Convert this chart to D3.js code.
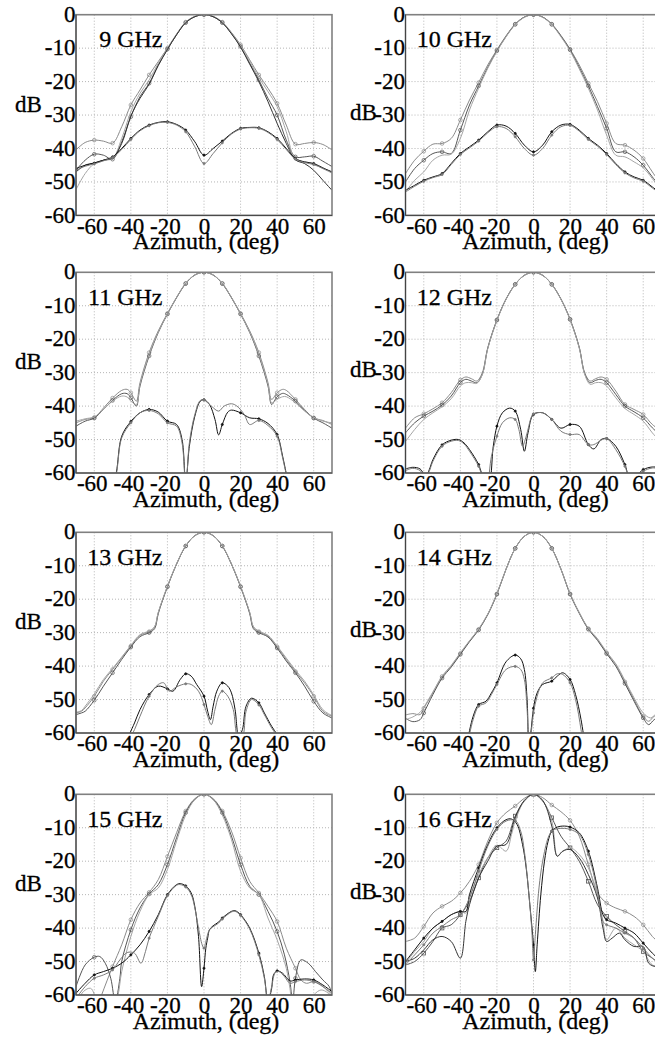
<!DOCTYPE html>
<html>
<head>
<meta charset="utf-8">
<script src="https://cdn.jsdelivr.net/npm/d3@7"></script>
<style>
  body { margin: 0; background: #fff; }
</style>
</head>
<body>
<svg width="655" height="1045"></svg>
<script>
// Tick labels and panel titles
const xTicks = [-60, -40, -20, 0, 20, 40, 60];
const yTicks = [0, -10, -20, -30, -40, -50, -60];
const titles = ['9 GHz', '10 GHz', '11 GHz', '12 GHz', '13 GHz', '14 GHz', '15 GHz', '16 GHz'];

// [azimuth deg, dB]. co* = main beam curves, cx* = cross-pol curves
const co9 = [
  [[-70,-40.4],[-65,-38.2],[-60,-37.5],[-55,-37.8],[-50,-38.4],[-45,-33.5],[-40,-27],[-35,-22.5],[-30,-18],[-25,-14],[-20,-10],[-15,-5.8],[-10,-2.2],[-5,-0.5],[0,0],[5,-0.5],[10,-2.2],[15,-5.3],[20,-9],[25,-13.5],[30,-18],[35,-22],[40,-26.5],[45,-33],[50,-38.7],[55,-38.5],[60,-38.2],[65,-38.8],[70,-40.4]],
  [[-70,-46.5],[-65,-43.5],[-60,-41.7],[-55,-42],[-50,-43.2],[-45,-38],[-40,-30.5],[-35,-24.5],[-30,-20.5],[-25,-15],[-20,-10.3],[-15,-6],[-10,-2.4],[-5,-0.6],[0,0],[5,-0.6],[10,-2.4],[15,-5.6],[20,-9.5],[25,-14.5],[30,-19.5],[35,-25],[40,-30],[45,-37.5],[50,-42.5],[55,-42.5],[60,-42.3],[65,-43.8],[70,-45.4]],
  [[-70,-52.3],[-65,-47.5],[-60,-44.5],[-55,-43.5],[-50,-43],[-45,-37],[-40,-29],[-35,-23.5],[-30,-19.5],[-25,-14.5],[-20,-10.2],[-15,-5.9],[-10,-2.3],[-5,-0.6],[0,0],[5,-0.6],[10,-2.3],[15,-5.4],[20,-9.3],[25,-14],[30,-18.8],[35,-23],[40,-27.5],[45,-35],[50,-43.3],[55,-44],[60,-44.5],[65,-45.8],[70,-47]],
  [[-70,-47],[-65,-45],[-60,-44.3],[-55,-43.5],[-50,-42.8],[-45,-38.5],[-40,-30.3],[-35,-25],[-30,-20.8],[-25,-15.2],[-20,-10.4],[-15,-6],[-10,-2.4],[-5,-0.6],[0,0],[5,-0.6],[10,-2.4],[15,-5.7],[20,-9.7],[25,-14.8],[30,-20],[35,-26],[40,-32.5],[45,-38.5],[50,-43.4],[55,-44.5],[60,-46.5],[65,-49.5],[70,-52.5]]
];
const cx9 = [
  [[-70,-46],[-65,-45],[-60,-44.4],[-55,-43.5],[-50,-42.5],[-45,-40],[-40,-37],[-35,-34.5],[-30,-33],[-25,-32.2],[-20,-32],[-15,-32.8],[-10,-34.5],[-5,-38],[0,-42],[5,-40],[10,-37.8],[15,-35.5],[20,-34],[25,-33.7],[30,-33.8],[35,-35],[40,-37],[45,-40],[50,-43],[55,-44],[60,-44.5],[65,-45.8],[70,-47]],
  [[-70,-46.5],[-65,-45.3],[-60,-44.6],[-55,-43.7],[-50,-42.7],[-45,-40.3],[-40,-37.3],[-35,-34.7],[-30,-33.2],[-25,-32.3],[-20,-32.2],[-15,-33],[-10,-35],[-5,-39.5],[0,-44.5],[5,-41.5],[10,-38.3],[15,-35.7],[20,-34.2],[25,-33.8],[30,-34],[35,-35.2],[40,-37.3],[45,-40.3],[50,-43.2],[55,-44.2],[60,-44.8],[65,-46],[70,-47.3]]
];

const co10 = [
  [[-70,-47.5],[-65,-43.5],[-60,-40.8],[-55,-38.7],[-50,-38.5],[-45,-37],[-40,-31.5],[-35,-25.5],[-30,-20.3],[-25,-15],[-20,-10.5],[-15,-6.3],[-10,-2.8],[-5,-0.7],[0,0],[5,-0.7],[10,-2.8],[15,-6.2],[20,-10.3],[25,-15],[30,-20.5],[35,-26],[40,-32.5],[45,-38.5],[50,-39],[55,-40.5],[60,-43],[65,-47],[70,-51]],
  [[-70,-50],[-65,-46],[-60,-43.5],[-55,-41.5],[-50,-41],[-45,-41.5],[-40,-34.5],[-35,-27],[-30,-21.3],[-25,-15.7],[-20,-10.8],[-15,-6.5],[-10,-2.9],[-5,-0.7],[0,0],[5,-0.7],[10,-2.9],[15,-6.4],[20,-10.5],[25,-15.7],[30,-21.3],[35,-27.5],[40,-34],[45,-41],[50,-41],[55,-42.5],[60,-45],[65,-48.5],[70,-52]],
  [[-70,-53],[-65,-49.5],[-60,-47],[-55,-43.5],[-50,-42],[-45,-41.7],[-40,-37],[-35,-28.5],[-30,-22],[-25,-16],[-20,-11],[-15,-6.6],[-10,-3],[-5,-0.8],[0,0],[5,-0.8],[10,-3],[15,-6.6],[20,-10.8],[25,-16.2],[30,-22],[35,-28.5],[40,-36],[45,-42],[50,-42.5],[55,-44],[60,-45.8],[65,-49],[70,-53]]
];
const cx10 = [
  [[-70,-52.5],[-65,-51],[-60,-49.5],[-55,-48.5],[-50,-47.5],[-45,-44.5],[-40,-41.5],[-35,-39.5],[-30,-37.5],[-25,-35],[-20,-33],[-15,-33.3],[-10,-35.5],[-5,-39],[0,-41],[5,-39],[10,-35],[15,-33],[20,-32.8],[25,-34.5],[30,-37],[35,-39],[40,-41.5],[45,-44.5],[50,-47],[55,-48.5],[60,-49.5],[65,-51.5],[70,-53.5]],
  [[-70,-53],[-65,-51.3],[-60,-49.8],[-55,-48.7],[-50,-47.8],[-45,-44.8],[-40,-41.8],[-35,-39.8],[-30,-37.8],[-25,-35.3],[-20,-33.5],[-15,-34],[-10,-36.5],[-5,-40],[0,-42],[5,-40],[10,-36],[15,-33.5],[20,-33.1],[25,-34.8],[30,-37.3],[35,-39.3],[40,-41.8],[45,-44.8],[50,-47.3],[55,-48.8],[60,-49.8],[65,-51.8],[70,-53.8]]
];

const co11 = [
  [[-70,-45],[-65,-44],[-60,-43.4],[-55,-40.6],[-50,-37.6],[-45,-35.3],[-42,-35],[-40,-36],[-37,-38.5],[-35,-33],[-30,-24],[-25,-17.5],[-20,-12.3],[-15,-7.5],[-10,-3.3],[-5,-0.8],[0,0],[5,-0.8],[10,-3.3],[15,-7.5],[20,-12.3],[25,-17.5],[30,-24],[35,-33],[37,-38],[40,-36],[43,-35],[45,-35.3],[50,-38],[55,-41],[60,-43.5],[65,-44.3],[70,-45.5]],
  [[-70,-46],[-65,-44.5],[-60,-43.6],[-55,-41],[-50,-38.3],[-45,-36.3],[-42,-36.3],[-40,-37.5],[-37,-40],[-35,-34],[-30,-25],[-25,-18],[-20,-12.5],[-15,-7.6],[-10,-3.4],[-5,-0.8],[0,0],[5,-0.8],[10,-3.4],[15,-7.6],[20,-12.5],[25,-18],[30,-25],[35,-34],[37,-39.5],[40,-37.2],[43,-36.2],[45,-36.5],[50,-38.5],[55,-41.3],[60,-43.6],[65,-45],[70,-46.6]],
  [[-70,-44.5],[-65,-43.8],[-60,-43.2],[-55,-41],[-50,-38.5],[-45,-37],[-42,-37.3],[-40,-38.5],[-37,-39.5],[-35,-33.5],[-30,-24.5],[-25,-17.8],[-20,-12.4],[-15,-7.5],[-10,-3.3],[-5,-0.8],[0,0],[5,-0.8],[10,-3.3],[15,-7.5],[20,-12.4],[25,-17.8],[30,-24.5],[35,-33.5],[37,-39],[40,-38],[43,-37.2],[45,-37.2],[50,-39],[55,-41.5],[60,-43.4],[65,-44.5],[70,-45]]
];
const cx11 = [
  [[-51,-66],[-48,-60],[-45,-49],[-40,-44.6],[-35,-42],[-30,-41],[-25,-41.8],[-20,-44.5],[-15,-45.5],[-12,-50],[-10,-63],[-8,-52],[-5,-43],[-2,-38.5],[0,-38.1],[3,-39.5],[6,-44],[8,-48.6],[10,-45.5],[13,-41.8],[15,-41.2],[20,-42],[25,-43.5],[30,-43.8],[35,-45.2],[40,-48.5],[43,-55],[46,-63]],
  [[-51,-66],[-48,-60.5],[-45,-49.5],[-40,-45],[-35,-42],[-30,-41.3],[-25,-42.3],[-20,-45],[-15,-46],[-12,-51],[-10,-64],[-8,-51],[-5,-42.5],[-2,-38.3],[0,-38.2],[4,-40],[8,-41.5],[11,-40],[15,-39.3],[18,-40],[22,-42.5],[25,-45.5],[30,-44.3],[35,-45.8],[40,-49],[43,-55.5],[46,-63]]
];

const co12 = [
  [[-70,-46.6],[-65,-43.5],[-60,-42.3],[-55,-40.8],[-50,-39],[-45,-36],[-40,-32.2],[-37,-31.3],[-34,-31.8],[-31,-32.5],[-28,-30],[-25,-22.5],[-20,-14.2],[-15,-8],[-10,-3.6],[-5,-0.9],[0,0],[5,-0.9],[10,-3.6],[15,-8],[20,-14],[25,-22.3],[28,-30],[31,-32.5],[34,-31.8],[37,-31.3],[40,-32],[45,-35.5],[50,-39.5],[55,-41],[60,-42.5],[65,-45.5],[70,-47.5]],
  [[-70,-48],[-65,-45],[-60,-43],[-55,-41.5],[-50,-39.7],[-45,-37],[-40,-33],[-37,-32],[-34,-32.5],[-31,-33],[-28,-30.5],[-25,-22.7],[-20,-14.3],[-15,-8],[-10,-3.6],[-5,-0.9],[0,0],[5,-0.9],[10,-3.6],[15,-8],[20,-14.1],[25,-22.5],[28,-30.3],[31,-33],[34,-32.3],[37,-32],[40,-33],[45,-36.5],[50,-40],[55,-41.7],[60,-43.5],[65,-46.5],[70,-49]],
  [[-70,-50.6],[-65,-47],[-60,-44],[-55,-42],[-50,-40.2],[-45,-37.8],[-40,-34],[-37,-33],[-34,-33],[-31,-33.2],[-28,-30.6],[-25,-22.8],[-20,-14.4],[-15,-8.1],[-10,-3.6],[-5,-0.9],[0,0],[5,-0.9],[10,-3.6],[15,-8.1],[20,-14.2],[25,-22.6],[28,-30.5],[31,-33.5],[34,-33],[37,-33],[40,-34],[45,-37.5],[50,-40.7],[55,-42.5],[60,-44.5],[65,-48],[70,-51]]
];
const cx12 = [
  [[-70,-58.8],[-66,-58.3],[-62,-58.8],[-59,-61],[-57,-59],[-55,-56],[-50,-51.6],[-45,-50.2],[-41,-50],[-38,-51],[-35,-53],[-30,-57.5],[-27,-62],[-24.5,-63],[-22,-52],[-20,-46],[-17,-42],[-13,-40.6],[-10,-41.5],[-7,-47],[-5,-53.5],[-3,-48],[0,-42.5],[5,-42],[10,-44],[15,-46.6],[20,-45.5],[25,-46],[30,-51.5],[33,-52.8],[37,-50],[40,-49.7],[45,-52],[50,-57.5],[53,-62],[56,-61],[60,-59],[65,-58.2],[70,-58.5]],
  [[-70,-59.3],[-66,-58.6],[-62,-59.3],[-59,-61.5],[-57,-59.5],[-55,-56.5],[-50,-52],[-45,-50.5],[-41,-50.3],[-38,-51.3],[-35,-53.5],[-30,-58],[-27,-62.5],[-25.5,-63],[-23,-55],[-20,-49],[-17,-45],[-13,-43.5],[-10,-44],[-8,-47],[-6,-52],[-4,-49],[-1,-43],[0,-42.3],[5,-42],[10,-44],[15,-47.5],[20,-48.5],[25,-48.5],[30,-51.5],[33,-51.5],[37,-50.2],[40,-49.7],[45,-53],[50,-58],[53,-62],[56,-61.5],[60,-59.5],[65,-58.5],[70,-58.8]]
];

const co13 = [
  [[-70,-54],[-67,-53.5],[-65,-52.5],[-60,-49],[-55,-44.5],[-50,-41],[-45,-37.5],[-40,-34],[-35,-30.8],[-30,-29.7],[-27,-28.3],[-25,-24],[-20,-16.2],[-15,-9.5],[-10,-4.1],[-5,-1],[0,0],[5,-1],[10,-4.1],[15,-9.5],[20,-16.2],[25,-24],[27,-28.3],[30,-29.7],[35,-31],[40,-34.2],[45,-38],[50,-41.6],[55,-45],[60,-49],[65,-53.5],[70,-55]],
  [[-70,-54.5],[-67,-54],[-65,-53.5],[-60,-50.2],[-55,-46],[-50,-42],[-45,-38],[-40,-34.3],[-35,-31.2],[-30,-30],[-27,-28.8],[-25,-24.3],[-20,-16.3],[-15,-9.5],[-10,-4.1],[-5,-1],[0,0],[5,-1],[10,-4.1],[15,-9.5],[20,-16.3],[25,-24.3],[27,-28.8],[30,-30],[35,-31.3],[40,-34.6],[45,-38.5],[50,-42],[55,-46],[60,-50.5],[65,-54],[70,-55.5]],
  [[-70,-53.8],[-67,-53.3],[-65,-52],[-60,-48.3],[-55,-44],[-50,-40.7],[-45,-37.3],[-40,-33.8],[-35,-30.6],[-30,-29.5],[-27,-28.2],[-25,-23.9],[-20,-16.1],[-15,-9.4],[-10,-4],[-5,-1],[0,0],[5,-1],[10,-4],[15,-9.4],[20,-16.1],[25,-23.9],[27,-28.2],[30,-29.5],[35,-30.8],[40,-34],[45,-37.6],[50,-41.2],[55,-44.5],[60,-48.6],[65,-53],[70,-54.8]]
];
const cx13 = [
  [[-43,-63],[-38,-57],[-35,-53],[-30,-48.5],[-25,-46],[-20,-46.8],[-17,-47.5],[-13,-44],[-10,-42.3],[-7,-43],[-4,-45.5],[0,-49],[2,-53.5],[3.5,-56],[5,-52],[7,-47.5],[10,-45],[13,-46],[15,-48],[17,-53],[19,-61],[21,-59],[23,-52],[26,-49.6],[30,-51],[33,-54],[37,-58],[40,-60.5],[42,-63]],
  [[-43,-64],[-38,-59],[-35,-55],[-30,-49],[-25,-45.5],[-22,-45],[-19,-47.5],[-15,-46.2],[-10,-45.3],[-7,-45.5],[-3,-47.5],[0,-51.5],[2,-55],[4,-57.5],[6,-53],[8,-49],[10,-47.5],[13,-49],[16,-53],[18.5,-61],[21,-61],[23,-53.5],[26,-50],[30,-51.6],[33,-54.5],[37,-58.5],[40,-61],[42,-64]]
];

const co14 = [
  [[-70,-54.6],[-66,-54.2],[-62,-54.5],[-60,-52.6],[-55,-48],[-50,-43.1],[-45,-40],[-40,-36.2],[-35,-32.5],[-30,-29],[-25,-24.5],[-20,-18.4],[-15,-11],[-10,-4.8],[-5,-1.2],[0,0],[5,-1.2],[10,-4.8],[15,-11],[20,-18.4],[25,-24],[30,-28.8],[35,-32],[40,-36],[45,-39.5],[50,-44.7],[55,-50],[60,-55],[63,-56.5],[66,-55],[70,-54.5]],
  [[-70,-55.6],[-66,-56.6],[-62,-56],[-60,-54],[-55,-48.5],[-50,-43.6],[-45,-40.3],[-40,-36.5],[-35,-32.7],[-30,-29.2],[-25,-24.6],[-20,-18.5],[-15,-11],[-10,-4.8],[-5,-1.2],[0,0],[5,-1.2],[10,-4.8],[15,-11],[20,-18.5],[25,-24.2],[30,-29],[35,-32.3],[40,-36.3],[45,-40],[50,-45.2],[55,-50.5],[60,-55.5],[63,-57.5],[66,-56],[70,-55]],
  [[-70,-56],[-66,-55.2],[-62,-53.8],[-60,-52.3],[-55,-47.7],[-50,-43],[-45,-39.8],[-40,-36],[-35,-32.4],[-30,-28.9],[-25,-24.4],[-20,-18.3],[-15,-11],[-10,-4.8],[-5,-1.2],[0,0],[5,-1.2],[10,-4.8],[15,-11],[20,-18.3],[25,-24],[30,-28.7],[35,-31.8],[40,-35.8],[45,-39.3],[50,-44.3],[55,-49.5],[60,-54],[64,-55.5],[67,-54.5],[70,-55.5]]
];
const cx14 = [
  [[-36,-62],[-33,-55],[-30,-51.5],[-26,-50.5],[-23,-48],[-20,-45],[-15,-38.7],[-10,-36.7],[-7,-37.8],[-5,-41],[-3.5,-50],[-2.5,-63],[-1.5,-60],[0,-52.6],[2,-48],[5,-45.5],[10,-44.5],[13,-43],[16,-42],[20,-44],[23,-48.5],[26,-56],[28,-63]],
  [[-36,-63],[-33,-56],[-30,-52],[-26,-51],[-23,-48.5],[-20,-45.5],[-15,-41],[-10,-40.1],[-7,-41],[-5,-44],[-3.5,-53],[-2.5,-64],[-1.5,-61],[0,-54],[2,-49],[5,-45],[10,-43.5],[13,-42.3],[16,-42.5],[20,-45],[23,-50],[26,-59],[27,-63]]
];

const co15 = [
  [[-60,-66],[-56,-60],[-50,-51.5],[-45,-45],[-40,-37.5],[-35,-32.5],[-30,-29.3],[-25,-25.5],[-20,-18.6],[-15,-11.5],[-10,-5],[-5,-1.3],[0,0],[5,-1.3],[10,-5],[15,-11],[20,-19],[25,-26],[30,-29.5],[35,-33.5],[40,-38],[45,-46],[50,-52],[53,-55.5],[56,-56.5],[60,-56],[64,-57],[68,-59],[71,-61]],
  [[-70,-57.5],[-65,-51],[-60,-48.7],[-57,-48.5],[-54,-50.5],[-51,-55],[-48.5,-62],[-46,-55],[-45,-50],[-40,-40.5],[-35,-34],[-30,-29.8],[-25,-27],[-20,-21],[-15,-13],[-10,-5.5],[-5,-1.5],[0,0],[5,-1.5],[10,-5.5],[15,-12.5],[20,-21],[25,-27.5],[30,-30],[35,-35],[40,-41],[44,-48],[47,-56],[48.5,-62],[50,-55],[53,-49.5],[57,-50.5],[61,-53],[65,-55.5],[68.5,-57.5],[71,-62]],
  [[-70,-63],[-66,-59],[-62,-58],[-58,-62],[-50,-65],[-47,-60],[-45,-53],[-40,-42.5],[-35,-35],[-30,-30],[-25,-28],[-20,-22.5],[-15,-14],[-10,-6.2],[-5,-1.6],[0,0],[5,-1.6],[10,-6.2],[15,-13.5],[20,-23],[25,-28],[30,-30],[35,-37],[40,-43.5],[45,-52],[47,-58],[49,-64],[55,-64],[60,-60],[64,-58.5],[68,-59.5],[71,-62]]
];
const cx15 = [
  [[-70,-59.5],[-65,-56.5],[-60,-54],[-55,-53],[-50,-52],[-45,-50.5],[-40,-48],[-35,-45],[-30,-41],[-25,-36],[-20,-30],[-15,-27],[-13,-26.7],[-10,-27.4],[-7,-29.5],[-5,-33.6],[-3,-42.5],[-1.3,-57.5],[0,-52],[1,-46],[2,-43],[3,-40.5],[5,-39.3],[8,-38.2],[10,-37],[15,-35],[17,-34.8],[20,-36],[25,-40],[30,-47.5],[33,-54.5],[35,-62],[37,-58],[38,-54],[40,-52.8],[43,-53.5],[47,-55.8],[50,-55.5],[55,-55.2],[60,-55.5],[65,-57],[70,-59]],
  [[-70,-61],[-65,-57.5],[-60,-55],[-55,-54],[-50,-52.5],[-46,-49.5],[-42,-47.3],[-38,-47.5],[-34.5,-50.5],[-32,-47],[-30,-43],[-25,-36.5],[-20,-30.3],[-15,-27.2],[-13,-27],[-10,-27.7],[-7,-30],[-5,-34],[-3,-40],[-1,-45],[0,-46],[1,-44],[3,-40.5],[5,-39.6],[8,-38.5],[10,-37.3],[15,-35.2],[17,-35],[20,-36.2],[25,-40.3],[30,-48],[33,-55],[35,-62],[37,-57.5],[39,-53.3],[41,-53],[44,-54.5],[47,-56.5],[50,-56],[55,-55.5],[60,-56],[65,-57.5],[70,-59.5]]
];

const co16 = [
  [[-70,-44],[-65,-43],[-60,-39.5],[-55,-35.5],[-50,-33.5],[-45,-32],[-40,-29.5],[-35,-26],[-30,-21],[-25,-14],[-20,-8.5],[-15,-5.5],[-10,-3.5],[-5,-1.2],[0,0],[5,-1],[10,-3.2],[15,-5.2],[20,-7.8],[25,-12.5],[30,-21],[35,-29.5],[40,-32.5],[45,-34],[50,-35],[55,-36.5],[60,-39],[65,-42.5],[70,-45]],
  [[-70,-51],[-65,-50],[-60,-47.5],[-55,-44],[-50,-40],[-45,-39],[-40,-36],[-35,-32],[-30,-25],[-25,-19],[-20,-16],[-15,-14],[-10,-6.5],[-5,-2],[0,0],[5,-2],[10,-7],[15,-12.5],[20,-16],[25,-20],[30,-26],[35,-33],[40,-36.5],[45,-39],[50,-41],[55,-43],[60,-47],[65,-49],[70,-51]],
  [[-70,-50.5],[-65,-47],[-60,-44],[-55,-40],[-50,-38],[-45,-36],[-40,-35],[-37,-35.5],[-35,-31],[-30,-24],[-25,-19],[-20,-15.2],[-15,-17],[-12,-12],[-10,-8],[-5,-2],[0,0],[5,-2],[10,-8],[13,-18.5],[15,-17.5],[20,-16],[25,-18],[30,-22],[35,-30],[38,-38],[40,-43.5],[45,-40],[50,-43],[55,-45],[60,-47],[65,-51],[70,-51.5]],
  [[-70,-50],[-65,-49],[-60,-46.5],[-55,-43.5],[-50,-42.5],[-45,-44],[-40,-49],[-37,-38],[-35,-33],[-30,-25],[-25,-20],[-20,-15.5],[-15,-15],[-10,-7],[-5,-1.8],[0,0],[5,-1.8],[10,-9.5],[13,-18.5],[16,-17],[20,-16.5],[25,-19],[30,-24],[35,-31],[38,-40],[40,-44],[43,-43],[47,-41.5],[50,-43.5],[55,-45.5],[60,-45.5],[63,-50.5],[67,-51.5],[70,-51]]
];
const cx16 = [
  [[-70,-50],[-65,-46.5],[-60,-43],[-55,-40],[-50,-38],[-45,-36],[-40,-35],[-37,-35],[-35,-30],[-30,-22],[-25,-15],[-20,-10],[-15,-7.6],[-12,-7.4],[-9,-9],[-6,-15],[-4,-22],[-2,-33],[0,-45],[1,-53],[2,-45],[4,-30],[6,-20],[8,-14],[10,-11],[13,-9.8],[17,-9.5],[20,-9.8],[25,-11.5],[30,-17],[35,-28],[38,-36],[40,-37.5],[45,-38.5],[50,-40],[55,-41.5],[60,-44.5],[65,-47.5],[70,-50]],
  [[-70,-51],[-65,-48],[-60,-45],[-55,-41.5],[-50,-39.5],[-45,-37.5],[-40,-36],[-35,-31],[-30,-23],[-25,-15.5],[-20,-10.5],[-15,-8],[-10,-7.8],[-7,-11],[-5,-17],[-3,-27],[-1,-40],[0,-49.5],[1,-42],[3,-28],[5,-20],[8,-13],[10,-11],[13,-10.3],[17,-10.2],[20,-10.5],[25,-12],[30,-18],[35,-29],[38,-38],[40,-39],[45,-40],[50,-41.5],[55,-43],[60,-46],[65,-49],[70,-51]]
];

const coSets = [co9, co10, co11, co12, co13, co14, co15, co16];
const cxSets = [cx9, cx10, cx11, cx12, cx13, cx14, cx15, cx16];

// Layout
const COL_X = [76, 405.5];
const ROW_Y = [14.7, 272.3, 532.3, 794.3];
const PW = 256, PH = 200.7;
const SERIF = '"Liberation Serif", "Times New Roman", serif';
const CO_COLORS = ['#8a8a8a', '#555', '#a5a5a5', '#333'];
const CX_COLORS = ['#111', '#7a7a7a'];

const svg = d3.select('svg');
svg.append('rect').attr('width', 655).attr('height', 1045).attr('fill', '#fff');

titles.forEach(function (title, i) {
    const col = i % 2, row = Math.floor(i / 2);
    const left = COL_X[col], top = ROW_Y[row];
    const x = d3.scaleLinear().domain([-70, 70]).range([left, left + PW]);
    const y = d3.scaleLinear().domain([-60, 0]).range([top + PH, top]);
    const g = svg.append('g');

    // dotted grid
    xTicks.forEach(function (t) {
        g.append('line')
            .attr('x1', x(t)).attr('x2', x(t))
            .attr('y1', top).attr('y2', top + PH)
            .attr('stroke', '#b5b5b5').attr('stroke-dasharray', '1,2');
    });
    yTicks.filter(t => t !== 0 && t !== -60).forEach(function (t) {
        g.append('line')
            .attr('x1', left).attr('x2', left + PW)
            .attr('y1', y(t)).attr('y2', y(t))
            .attr('stroke', '#b5b5b5').attr('stroke-dasharray', '1,2');
    });

    // curves, clipped to the plot box
    const clipId = 'clip' + i;
    svg.append('clipPath').attr('id', clipId)
        .append('rect').attr('x', left).attr('y', top).attr('width', PW).attr('height', PH);
    const plot = g.append('g').attr('clip-path', `url(#${clipId})`);

    const line = d3.line()
        .x(d => x(d[0]))
        .y(d => y(d[1]))
        .curve(d3.curveCatmullRom.alpha(0.5));

    const drawSeries = function (series, colors, isCo) {
        series.forEach(function (s, k) {
            const color = colors[k % colors.length];
            plot.append('path')
                .attr('d', line(s))
                .attr('fill', 'none')
                .attr('stroke', color)
                .attr('stroke-width', 1);
            // markers only on some curves, every 10 deg
            if (k > 1) return;
            const pts = s.filter(d => d[0] % 10 === 0 && Math.abs(d[0]) < 70 && d[1] >= -60);
            if (isCo && i === 7 && k === 1) {
                plot.selectAll(null).data(pts).enter().append('rect')
                    .attr('x', d => x(d[0]) - 1.8).attr('y', d => y(d[1]) - 1.8)
                    .attr('width', 3.6).attr('height', 3.6)
                    .attr('fill', 'none').attr('stroke', color).attr('stroke-width', 0.8);
            } else {
                plot.selectAll(null).data(pts).enter().append('circle')
                    .attr('cx', d => x(d[0])).attr('cy', d => y(d[1]))
                    .attr('r', isCo ? 1.8 : 1.1)
                    .attr('fill', isCo ? 'none' : color)
                    .attr('stroke', color).attr('stroke-width', 0.7);
            }
        });
    };
    drawSeries(coSets[i], CO_COLORS, true);
    drawSeries(cxSets[i], CX_COLORS, false);

    // frame
    g.append('rect')
        .attr('x', left).attr('y', top).attr('width', PW).attr('height', PH)
        .attr('fill', 'none').attr('stroke', '#808080').attr('stroke-width', 1.6);
    g.append('path')
        .attr('d', `M${left},${top}V${top + PH}H${left + PW}`)
        .attr('fill', 'none').attr('stroke', '#444').attr('stroke-width', 1);

    // axes (labels only)
    const gx = g.append('g')
        .attr('transform', `translate(0,${top + PH})`)
        .call(d3.axisBottom(x).tickValues(xTicks).tickSize(0).tickFormat(String));
    gx.select('.domain').remove();
    gx.attr('font-family', SERIF).attr('font-size', 23).attr('color', '#000');
    gx.selectAll('text').attr('y', 18.3).attr('dy', null).attr('dx', d => d < 0 ? -2.5 : 0)
        .attr('stroke', '#000').attr('stroke-width', 0.3);

    const gy = g.append('g')
        .attr('transform', `translate(${left},0)`)
        .call(d3.axisLeft(y).tickValues(yTicks).tickSize(0).tickFormat(String));
    gy.select('.domain').remove();
    gy.attr('font-family', SERIF).attr('font-size', 23).attr('color', '#000');
    gy.selectAll('text').attr('x', -0.5).attr('dy', null).attr('y', 6.6)
        .attr('stroke', '#000').attr('stroke-width', 0.3);

    // texts
    const label = function (tx, ty, str, size, anchor) {
        g.append('text')
            .attr('x', tx).attr('y', ty)
            .attr('text-anchor', anchor)
            .attr('font-family', SERIF).attr('font-size', size)
            .attr('fill', '#000').attr('stroke', '#000').attr('stroke-width', 0.3)
            .text(str);
    };
    label(left + PW / 2 + 2, top + PH + 33.5, 'Azimuth, (deg)', 24, 'middle');
    label(col === 0 ? left - 61 : left - 55.5, col === 0 ? top + 97 : top + 105, 'dB', 23, 'start');
    label(left + 86.5, top + 32.5, title, 24, 'end');
});
</script>
</body>
</html>
